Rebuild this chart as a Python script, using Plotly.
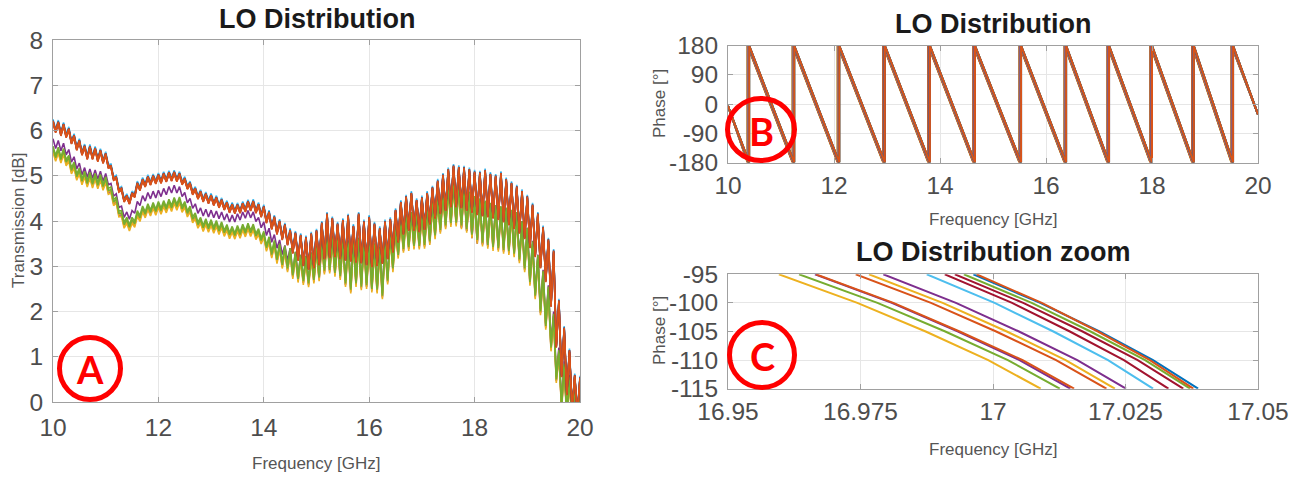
import numpy as np
import plotly.graph_objects as go

W, H = 1304, 477

# MATLAB default line colours
BLUE = "#0072BD"
ORANGE = "#D95319"
YELLOW = "#EDB120"
PURPLE = "#7E2F8E"
GREEN = "#77AC30"
LIGHTBLUE = "#4DBEEE"
DARKRED = "#A2142F"

# ---------------- Panel A: transmission vs frequency ----------------
FREQ_A_GHZ = np.round(np.linspace(10.0, 20.0, 201), 2)

TRANS_UPPER_DB = [
    6.17, 5.95, 6.15, 5.88, 6.10, 5.84, 6.00, 5.70, 5.85, 5.56,
    5.74, 5.45, 5.62, 5.36, 5.61, 5.36, 5.57, 5.31, 5.52, 5.27,
    5.45, 5.17, 5.18, 4.90, 4.93, 4.64, 4.68, 4.42, 4.52, 4.37,
    4.58, 4.52, 4.80, 4.67, 4.88, 4.75, 4.94, 4.79, 4.96, 4.82,
    4.98, 4.83, 5.01, 4.86, 5.03, 4.88, 5.04, 4.87, 5.01, 4.80,
    4.90, 4.70, 4.80, 4.58, 4.68, 4.48, 4.61, 4.42, 4.56, 4.38,
    4.53, 4.34, 4.48, 4.29, 4.43, 4.24, 4.37, 4.18, 4.33, 4.16,
    4.32, 4.17, 4.35, 4.20, 4.39, 4.22, 4.40, 4.17, 4.33, 4.08,
    4.28, 3.95, 4.16, 3.81, 4.05, 3.70, 3.96, 3.58, 3.88, 3.46,
    3.76, 3.28, 3.70, 3.12, 3.65, 3.00, 3.60, 2.92, 3.68, 2.95,
    3.75, 3.02, 3.92, 3.15, 4.12, 3.18, 4.02, 3.20, 3.90, 3.15,
    3.98, 3.12, 4.08, 3.10, 3.85, 3.08, 4.12, 3.06, 3.95, 3.02,
    4.05, 2.98, 3.90, 3.00, 3.80, 3.05, 3.95, 3.15, 4.00, 3.30,
    4.20, 3.52, 4.38, 3.70, 4.50, 3.78, 4.58, 3.78, 4.42, 3.75,
    4.48, 3.80, 4.58, 3.92, 4.70, 4.05, 4.85, 4.15, 4.98, 4.22,
    5.10, 4.30, 5.18, 4.30, 5.15, 4.28, 5.14, 4.22, 5.10, 4.18,
    5.05, 4.13, 5.03, 4.10, 5.08, 4.08, 5.00, 4.05, 4.96, 4.02,
    5.02, 3.97, 4.88, 3.90, 4.80, 3.82, 4.72, 3.72, 4.62, 3.60,
    4.50, 3.40, 4.32, 3.20, 4.12, 2.95, 3.82, 2.65, 3.55, 2.10,
    3.30, 1.20, 2.20, 0.55, 1.60, 0.15, 1.10, -0.20, 0.55, -0.30,
    0.50,
]

TRANS_MIDDLE_DB = [
    5.82, 5.60, 5.78, 5.55, 5.72, 5.46, 5.58, 5.30, 5.42, 5.15,
    5.28, 5.02, 5.18, 4.96, 5.15, 4.94, 5.13, 4.92, 5.10, 4.88,
    5.05, 4.80, 4.83, 4.55, 4.60, 4.30, 4.33, 4.08, 4.20, 4.04,
    4.23, 4.17, 4.43, 4.34, 4.56, 4.44, 4.63, 4.49, 4.66, 4.51,
    4.68, 4.54, 4.72, 4.58, 4.76, 4.62, 4.79, 4.62, 4.76, 4.54,
    4.63, 4.40, 4.50, 4.28, 4.38, 4.17, 4.29, 4.11, 4.26, 4.09,
    4.24, 4.07, 4.22, 4.05, 4.20, 4.02, 4.16, 3.98, 4.13, 3.98,
    4.16, 4.02, 4.20, 4.06, 4.23, 4.07, 4.20, 3.99, 4.08, 3.85,
    3.98, 3.68, 3.84, 3.53, 3.70, 3.40, 3.58, 3.26, 3.46, 3.12,
    3.40, 2.85, 3.32, 2.78, 3.25, 2.72, 3.23, 2.67, 3.30, 2.75,
    3.45, 2.80, 3.60, 2.95, 3.70, 2.97, 3.67, 2.90, 3.63, 2.83,
    3.60, 2.68, 3.57, 2.60, 3.60, 2.67, 3.63, 2.65, 3.60, 2.63,
    3.57, 2.60, 3.50, 2.53, 3.43, 2.47, 3.55, 2.73, 3.75, 3.00,
    3.90, 3.30, 4.10, 3.43, 4.15, 3.47, 4.20, 3.50, 4.20, 3.50,
    4.23, 3.52, 4.33, 3.60, 4.43, 3.73, 4.55, 3.85, 4.67, 3.95,
    4.80, 3.98, 4.85, 3.95, 4.80, 3.85, 4.75, 3.78, 4.62, 3.62,
    4.52, 3.50, 4.47, 3.48, 4.42, 3.45, 4.38, 3.44, 4.33, 3.43,
    4.31, 3.40, 4.28, 3.37, 4.23, 3.32, 4.18, 3.20, 4.00, 3.00,
    3.85, 2.72, 3.56, 2.42, 3.26, 2.08, 2.92, 1.75, 2.58, 1.30,
    2.00, 0.60, 1.20, 0.00, 0.90, -0.20, 0.60, -0.30, 0.30, -0.30,
    0.15,
]

TRANS_LOWER_DB = [
    5.60, 5.40, 5.58, 5.36, 5.55, 5.30, 5.40, 5.12, 5.25, 4.98,
    5.12, 4.88, 5.05, 4.83, 5.03, 4.81, 5.00, 4.79, 4.98, 4.76,
    4.93, 4.67, 4.70, 4.42, 4.48, 4.17, 4.18, 3.92, 4.03, 3.86,
    4.03, 3.94, 4.18, 4.07, 4.28, 4.15, 4.33, 4.19, 4.36, 4.21,
    4.38, 4.23, 4.40, 4.26, 4.43, 4.29, 4.47, 4.32, 4.48, 4.27,
    4.38, 4.17, 4.28, 4.04, 4.13, 3.92, 4.03, 3.85, 4.00, 3.83,
    3.98, 3.81, 3.96, 3.78, 3.93, 3.74, 3.87, 3.69, 3.83, 3.68,
    3.85, 3.70, 3.88, 3.73, 3.90, 3.74, 3.88, 3.67, 3.78, 3.57,
    3.72, 3.41, 3.60, 3.26, 3.52, 3.14, 3.45, 3.03, 3.40, 2.95,
    3.35, 2.80, 3.27, 2.72, 3.20, 2.67, 3.18, 2.62, 3.25, 2.70,
    3.40, 2.75, 3.55, 2.90, 3.65, 2.92, 3.62, 2.85, 3.58, 2.78,
    3.55, 2.62, 3.52, 2.48, 3.55, 2.62, 3.58, 2.55, 3.55, 2.58,
    3.52, 2.50, 3.45, 2.48, 3.38, 2.35, 3.50, 2.68, 3.70, 2.95,
    3.85, 3.25, 4.05, 3.38, 4.10, 3.42, 4.15, 3.45, 4.15, 3.45,
    4.18, 3.47, 4.28, 3.55, 4.38, 3.68, 4.50, 3.80, 4.62, 3.90,
    4.75, 3.95, 4.82, 3.96, 4.78, 3.90, 4.72, 3.82, 4.60, 3.70,
    4.50, 3.58, 4.45, 3.52, 4.40, 3.47, 4.35, 3.42, 4.30, 3.40,
    4.28, 3.36, 4.25, 3.33, 4.20, 3.28, 4.15, 3.15, 3.95, 2.95,
    3.80, 2.65, 3.50, 2.35, 3.20, 2.00, 2.85, 1.68, 2.50, 1.20,
    1.90, 0.50, 1.10, -0.10, 0.80, -0.30, 0.50, -0.40, 0.20, -0.40,
    0.10,
]

# channel-to-channel spread inside each group [dB]
A_CHANNELS = [
    ("middle", PURPLE, 0.0),
    ("lower", PURPLE, -0.04),
    ("lower", YELLOW, -0.08),
    ("lower", YELLOW, -0.02),
    ("lower", GREEN, 0.05),
    ("lower", GREEN, 0.0),
    ("upper", LIGHTBLUE, 0.08),
    ("upper", BLUE, 0.05),
    ("upper", DARKRED, 0.04),
    ("upper", BLUE, 0.02),
    ("upper", DARKRED, 0.01),
    ("upper", ORANGE, 0.04),
    ("upper", ORANGE, 0.0),
]
A_GROUPS = {"upper": TRANS_UPPER_DB, "middle": TRANS_MIDDLE_DB, "lower": TRANS_LOWER_DB}

# ---------------- Panel B: wrapped phase ----------------
WRAP_GHZ = [10.38, 11.23, 12.08, 12.94, 13.79, 14.64, 15.51, 16.36, 17.17, 17.98, 18.77, 19.51]
PHASE_START_DEG = -6
PHASE_END_DEG = -32
PHASE_REF_GHZ = 17.0  # frequency where the wrapped phase passes -105 deg
PHASE_TICKS = [-180, -90, 0, 90, 180]

# ---------------- Panel C: phase zoom around 17 GHz ----------------
ZOOM_PHASE_DEG = [-95, -100, -105, -110, -115]
ZOOM_FREQ_GHZ = [
    [16.9596, 16.9744, 16.9873, 16.9991, 17.0090],
    [16.9634, 16.9782, 16.9910, 17.0028, 17.0126],
    [16.9664, 16.9809, 16.9934, 17.0050, 17.0146],
    [16.9666, 16.9812, 16.9937, 17.0056, 17.0153],
    [16.9741, 16.9883, 17.0006, 17.0119, 17.0214],
    [16.9766, 16.9905, 17.0026, 17.0137, 17.0230],
    [16.9793, 16.9930, 17.0049, 17.0159, 17.0251],
    [16.9875, 17.0003, 17.0114, 17.0217, 17.0302],
    [16.9909, 17.0036, 17.0145, 17.0247, 17.0331],
    [16.9928, 17.0057, 17.0169, 17.0273, 17.0359],
    [16.9945, 17.0073, 17.0184, 17.0287, 17.0372],
    [16.9963, 17.0089, 17.0201, 17.0302, 17.0387],
    [16.9969, 17.0092, 17.0198, 17.0296, 17.0378],
]
ZOOM_COLORS = [YELLOW, GREEN, PURPLE, ORANGE, ORANGE, YELLOW, PURPLE,
               LIGHTBLUE, DARKRED, DARKRED, GREEN, BLUE, ORANGE]
ZOOM_TICKS_GHZ = [16.95, 16.975, 17.0, 17.025, 17.05]
ZOOM_TICK_LABELS = ["16.95", "16.975", "17", "17.025", "17.05"]

for arr in (TRANS_UPPER_DB, TRANS_MIDDLE_DB, TRANS_LOWER_DB):
    assert len(arr) == len(FREQ_A_GHZ)


def px(x):
    return x / W


def py(y):
    return 1 - y / H


def hyphen_labels(vals):
    # plain ASCII minus, as MATLAB prints it
    return ["%g" % v for v in vals]


FONT = "Liberation Sans, Arial, Helvetica, sans-serif"
TICK_FONT = dict(family=FONT, size=24.5, color="#4d4d4d")
LABEL_FONT = dict(family=FONT, size=17, color="#555555")
TITLE_FONT = dict(family=FONT, size=27, color="#1a1a1a")

fig = go.Figure()

# Panel A traces
for group, color, spread in A_CHANNELS:
    vals = np.array(A_GROUPS[group]) + spread
    fig.add_trace(go.Scatter(x=FREQ_A_GHZ, y=vals, mode="lines",
                             line=dict(color=color, width=1.6),
                             xaxis="x", yaxis="y", showlegend=False,
                             hoverinfo="skip"))

# Panel B traces (one per channel, offset by its phase delay at 17 GHz)
for freqs, color in zip(ZOOM_FREQ_GHZ, ZOOM_COLORS):
    shift = freqs[2] - PHASE_REF_GHZ
    xs = [10.0]
    ys = [PHASE_START_DEG]
    for w in WRAP_GHZ:
        xs += [w + shift, w + shift]
        ys += [-180, 180]
    xs.append(20.0)
    ys.append(PHASE_END_DEG)
    fig.add_trace(go.Scatter(x=xs, y=ys, mode="lines",
                             line=dict(color=color, width=2),
                             xaxis="x2", yaxis="y2", showlegend=False,
                             hoverinfo="skip"))

# Panel C traces
for freqs, color in zip(ZOOM_FREQ_GHZ, ZOOM_COLORS):
    fig.add_trace(go.Scatter(x=freqs, y=ZOOM_PHASE_DEG, mode="lines",
                             line=dict(color=color, width=2),
                             xaxis="x3", yaxis="y3", showlegend=False,
                             hoverinfo="skip"))

axis_style = dict(showline=True, linecolor="#a0a0a0", linewidth=1, mirror="ticks",
                  ticks="inside", ticklen=5, tickcolor="#a0a0a0",
                  showgrid=True, gridcolor="#e6e6e6", gridwidth=1,
                  zeroline=False, tickfont=TICK_FONT, automargin=False)

XA = [px(53), px(580)]
XR = [px(728), px(1258)]

fig.update_layout(
    width=W, height=H,
    margin=dict(l=0, r=0, t=0, b=0),
    paper_bgcolor="white", plot_bgcolor="white",
    xaxis=dict(domain=XA, range=[10, 20], tickvals=[10, 12, 14, 16, 18, 20],
               anchor="y", ticklabelstandoff=4, **axis_style),
    yaxis=dict(domain=[py(402), py(40)], range=[0, 8], dtick=1,
               anchor="x", ticklabelstandoff=4, **axis_style),
    xaxis2=dict(domain=XR, range=[10, 20], tickvals=[10, 12, 14, 16, 18, 20],
                anchor="y2", ticklabelstandoff=1, **axis_style),
    yaxis2=dict(domain=[py(162.5), py(45.7)], range=[-180, 180],
                tickvals=PHASE_TICKS, ticktext=hyphen_labels(PHASE_TICKS),
                anchor="x2", ticklabelstandoff=4, **axis_style),
    xaxis3=dict(domain=XR, range=[16.95, 17.05],
                tickvals=ZOOM_TICKS_GHZ, ticktext=ZOOM_TICK_LABELS,
                anchor="y3", ticklabelstandoff=1, **axis_style),
    yaxis3=dict(domain=[py(388.7), py(274.3)], range=[-115, -95],
                tickvals=ZOOM_PHASE_DEG, ticktext=hyphen_labels(ZOOM_PHASE_DEG),
                anchor="x3", ticklabelstandoff=4, **axis_style),
)

annotations = [
    dict(text="<b>LO Distribution</b>", x=px(316.5), y=py(19), font=TITLE_FONT),
    dict(text="<b>LO Distribution</b>", x=px(993), y=py(24), font=TITLE_FONT),
    dict(text="<b>LO Distribution zoom</b>", x=px(993), y=py(252), font=TITLE_FONT),
    dict(text="Frequency [GHz]", x=px(316.5), y=py(463), font=LABEL_FONT),
    dict(text="Frequency [GHz]", x=px(993), y=py(219), font=LABEL_FONT),
    dict(text="Frequency [GHz]", x=px(993), y=py(449), font=LABEL_FONT),
    dict(text="Transmission [dB]", x=px(18), y=py(221), font=LABEL_FONT, textangle=-90),
    dict(text="Phase [°]", x=px(659), y=py(104), font=LABEL_FONT, textangle=-90),
    dict(text="Phase [°]", x=px(659), y=py(331), font=LABEL_FONT, textangle=-90),
]
MARK_FONT = dict(family="Lato, " + FONT, size=38, color="#ff0000")
for letter, cx, cy in (("A", 90, 369), ("B", 761, 131), ("C", 762, 356)):
    annotations.append(dict(text="<b>%s</b>" % letter, x=px(cx), y=py(cy), font=MARK_FONT))

for a in annotations:
    a.update(xref="paper", yref="paper", showarrow=False,
             xanchor="center", yanchor="middle")
fig.update_layout(annotations=annotations)

shapes = []
for cx, cy, rx, ry in ((90, 368.5, 30.5, 31), (761, 129.5, 33.5, 31), (762, 355, 32.5, 32.5)):
    shapes.append(dict(type="circle", xref="paper", yref="paper",
                       x0=px(cx - rx), x1=px(cx + rx), y0=py(cy + ry), y1=py(cy - ry),
                       line=dict(color="#ff0000", width=5), layer="above"))
fig.update_layout(shapes=shapes)

fig.write_html("out.html")
